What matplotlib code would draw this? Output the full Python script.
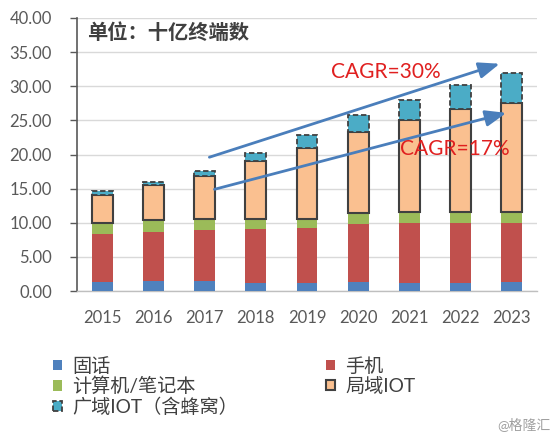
import matplotlib
matplotlib.use("Agg")
import matplotlib.pyplot as plt
import numpy as np

plt.rcParams['font.family'] = ['Lato', 'Noto Sans CJK SC', 'DejaVu Sans']

years = ['2015', '2016', '2017', '2018', '2019', '2020', '2021', '2022', '2023']
fixed = [1.3, 1.4, 1.4, 1.2, 1.1, 1.3, 1.1, 1.1, 1.3]
mobile = [7.1, 7.3, 7.6, 7.9, 8.2, 8.5, 8.9, 8.9, 8.6]
pc = [1.6, 1.7, 1.5, 1.5, 1.3, 1.6, 1.6, 1.6, 1.7]
short_iot = [4.0, 5.1, 6.3, 8.5, 10.4, 11.85, 13.4, 15.0, 16.0]
wide_iot = [0.6, 0.5, 0.85, 1.1, 1.9, 2.55, 3.0, 3.6, 4.3]
labels = ['固话', '手机', '计算机/笔记本', '局域IOT', '广域IOT（含蜂窝）']
yticks = [0, 5, 10, 15, 20, 25, 30, 35, 40]

W, H = 558, 438
fig = plt.figure(figsize=(W / 100, H / 100), dpi=100)
ax = fig.add_axes([77 / W, 1 - 291 / H, (537 - 77) / W, (291 - 18) / H])

x = np.arange(len(years))
bw = 0.41
b1 = np.array(fixed)
b2 = b1 + np.array(mobile)
b3 = b2 + np.array(pc)
b4 = b3 + np.array(short_iot)

h_fixed = ax.bar(x, fixed, bw, color='#4F81BD', zorder=3)
h_mobile = ax.bar(x, mobile, bw, bottom=b1, color='#C0504D', zorder=3)
h_pc = ax.bar(x, pc, bw, bottom=b2, color='#9BBB59', zorder=3)
h_short = ax.bar(x, short_iot, bw, bottom=b3, color='#FAC090',
                 edgecolor='#404040', linewidth=1.5, zorder=3)
h_wide = ax.bar(x, wide_iot, bw, bottom=b4, color='#4BACC6',
                edgecolor='#404040', linewidth=1.3, linestyle=(0, (3, 1.5)), zorder=3)

ax.set_xlim(-0.5, len(years) - 0.5)
ax.set_ylim(0, 40)
ax.set_yticks(yticks)
ax.set_yticklabels([f'{v:.2f}' for v in yticks], fontsize=12, color='#595959')
ax.set_xticks(x)
ax.set_xticklabels(years, fontsize=12, color='#595959')
ax.tick_params(axis='x', length=0, pad=14)
ax.tick_params(axis='y', length=5, color='#595959', width=1, pad=13)
ax.yaxis.grid(True, color='#d9d9d9', linewidth=1, zorder=0)
ax.set_axisbelow(True)
for s in ['top', 'right']:
    ax.spines[s].set_visible(False)
ax.spines['left'].set_color('#595959')
ax.spines['left'].set_linewidth(1.2)
ax.spines['bottom'].set_color('#bfbfbf')
ax.spines['bottom'].set_linewidth(1)

ax.text(87 / W, 1 - 33 / H, '单位：十亿终端数', transform=fig.transFigure,
        fontsize=14.6, fontweight='bold', color='#404040', va='center', ha='left')

arrow_kw = dict(arrowstyle='-|>,head_length=0.9,head_width=0.35', color='#4A7EBB',
                lw=2, mutation_scale=14, shrinkA=0, shrinkB=0)
ax.annotate('', xy=(7.77, 33.3), xytext=(2.09, 19.6), arrowprops=arrow_kw, zorder=5)
ax.annotate('', xy=(7.9, 26.1), xytext=(2.19, 14.9), arrowprops=arrow_kw, zorder=5)
ax.text(5.54, 32.1, 'CAGR=30%', fontsize=15, color='#E02020', ha='center', va='center', zorder=6)
ax.text(6.89, 20.8, 'CAGR=17%', fontsize=15, color='#E02020', ha='center', va='center', zorder=6)

handles = [h_fixed, h_pc, h_wide, h_mobile, h_short]
hl = [labels[0], labels[2], labels[4], labels[1], labels[3]]
fig.legend(handles, hl, loc='upper left', bbox_to_anchor=(53 / W, 1 - 357 / H),
           ncol=2, frameon=False, fontsize=13.8, handlelength=0.45, handleheight=0.45,
           handletextpad=0.55, columnspacing=4.6, labelspacing=0.1,
           borderpad=0, borderaxespad=0, labelcolor='#404040')

fig.text(550 / W, 1 - 424 / H, '@格隆汇', fontsize=10, color='#a0a0a0', ha='right', va='center')

fig.savefig('out.png', dpi=100)
